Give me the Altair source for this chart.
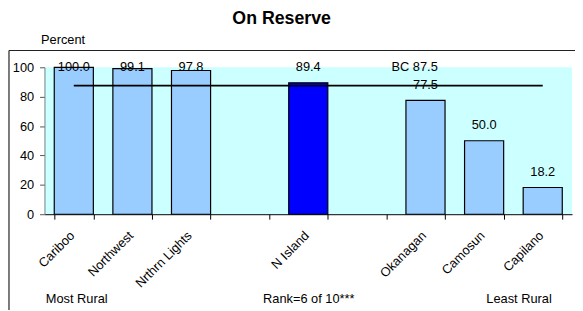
import altair as alt
import pandas as pd

# ---- data ----
slots = ["Cariboo", "Northwest", "Nrthrn Lights", "gap1", "N Island", "gap2",
         "Okanagan", "Camosun", "Capilano"]
regions = ["Cariboo", "Northwest", "Nrthrn Lights", "N Island", "Okanagan", "Camosun", "Capilano"]
percent = [100.0, 99.1, 97.8, 89.4, 77.5, 50.0, 18.2]
highlight = "N Island"
bc_value = 87.5
bc_label = "BC 87.5"
rank_text = "Rank=6 of 10***"
end_labels = ["Most Rural", "Least Rural"]
end_regions = ["Cariboo", "Capilano"]
end_shift = [3, -24]
title_text = "On Reserve"
y_ticks = [0, 20, 40, 60, 80, 100]

FONT = "Liberation Sans"
W, H = 535, 149
FS = 13
BOTTOM_TXT = 239

df = pd.DataFrame({"region": regions, "pct": percent})
df["label"] = df["pct"].map(lambda v: f"{v:.1f}")
df["label_y"] = (df["pct"] + 10.5).clip(upper=100.5)
df["hl"] = df["region"] == highlight

bc_df = pd.DataFrame({"x": [regions[0]], "x2": [regions[-1]], "y": [bc_value],
                      "lx": ["Okanagan"], "ly": [100.5], "text": [bc_label]})
frame_df = pd.DataFrame({"k": [0]})

x_scale = alt.Scale(domain=slots, paddingInner=0.333, paddingOuter=0.1667)
y_scale = alt.Scale(domain=[0, 100])

x_axis = alt.Axis(
    title=rank_text, labelAngle=-45, labelAlign="right", labelBaseline="top",
    labelExpr="indexof(datum.label, 'gap') == 0 ? '' : datum.label",
    tickBand="extent", domainColor="black", tickColor="black", tickSize=5,
    labelFontSize=13, labelColor="black", labelPadding=10, labelOffset=-6,
    labelOverlap=False,
    titleFontSize=FS, titleFontWeight="normal", titleColor="black",
    titleY=BOTTOM_TXT - H, titleBaseline="alphabetic",
)
y_axis = alt.Axis(
    title="Percent", values=y_ticks, grid=False, labelOverlap=False,
    domainColor="#808080", tickColor="#555555", tickSize=5,
    labelFontSize=FS, labelColor="black", labelPadding=6,
    titleAngle=0, titleAlign="left", titleBaseline="alphabetic",
    titleX=-4, titleY=-24, titleFontSize=FS, titleFontWeight="normal", titleColor="black",
)

X = lambda f: alt.X(f, scale=x_scale, axis=x_axis, sort=slots)
Y = lambda f: alt.Y(f, scale=y_scale, axis=y_axis)

base = alt.Chart(df)

bars = base.mark_bar(stroke="black", strokeWidth=1.2).encode(
    x=X("region:N"), y=Y("pct:Q"),
    color=alt.condition(alt.datum.hl, alt.value("#0000FF"), alt.value("#99CCFF")),
)

labels = base.mark_text(fontSize=FS, baseline="middle", color="black").encode(
    x=X("region:N"), y=Y("label_y:Q"), text="label:N",
)

bc_rule = alt.Chart(bc_df).mark_rule(color="black", strokeWidth=1.6).encode(
    x=X("x:N"), x2="x2:N", y=Y("y:Q"),
)
bc_text = alt.Chart(bc_df).mark_text(fontSize=FS, baseline="middle", dx=-11, color="black").encode(
    x=X("lx:N"), y=Y("ly:Q"), text="text:N",
)

end_text = alt.layer(*[
    alt.Chart(pd.DataFrame({"region": [r], "text": [t]})).mark_text(
        fontSize=FS, baseline="alphabetic", color="black", dx=s
    ).encode(x=X("region:N"), y=alt.value(BOTTOM_TXT), text="text:N")
    for r, t, s in zip(end_regions, end_labels, end_shift)
])

frame_top = alt.Chart(frame_df).mark_rule(color="#222222", strokeWidth=1.2).encode(
    x=alt.value(-36), x2=alt.value(W + 10), y=alt.value(-17),
)
frame_left = alt.Chart(frame_df).mark_rule(color="#222222", strokeWidth=1.2).encode(
    x=alt.value(-36), y=alt.value(-17), y2=alt.value(H + 120),
)

chart = alt.layer(bars, labels, bc_rule, bc_text, end_text, frame_top, frame_left).properties(
    width=W, height=H,
    autosize=alt.AutoSizeParams(type="none"),
    padding={"left": 37, "top": 58, "right": 3, "bottom": 95},
    title=alt.TitleParams(title_text, fontSize=18, fontWeight="bold", font=FONT,
                          anchor="middle", frame="group", dx=-27, dy=-2, color="black"),
).configure(font=FONT).configure_view(fill="#CCFFFF", strokeWidth=0)

chart.save("out.html", embed_options={"renderer": "svg", "actions": False})
